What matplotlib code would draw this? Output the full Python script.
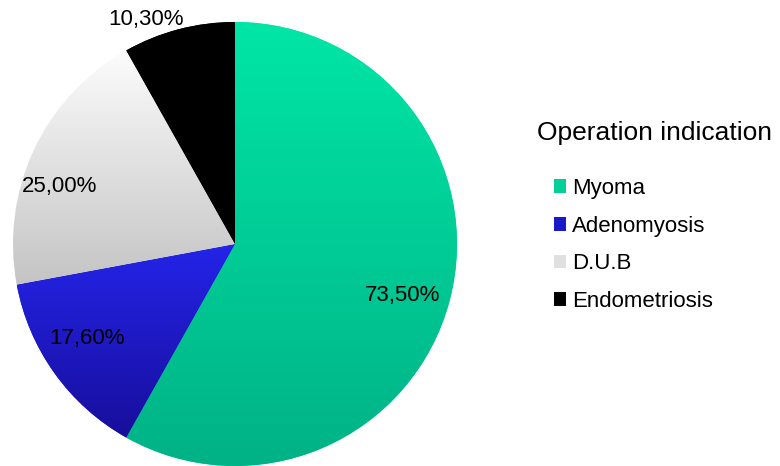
import numpy as np
import matplotlib
matplotlib.use('Agg')
import matplotlib.pyplot as plt
from matplotlib.patches import Patch
from matplotlib.colors import LinearSegmentedColormap

plt.rcParams['font.family'] = ['Liberation Sans', 'DejaVu Sans']

categories = ['Myoma', 'Adenomyosis', 'D.U.B', 'Endometriosis']
values = [73.50, 17.60, 25.00, 10.30]
value_labels = ['73,50%', '17,60%', '25,00%', '10,30%']

# gradient top -> bottom for each slice
grad_top = ['#00E6A6', '#2424E8', '#FCFCFC', '#000000']
grad_bottom = ['#00B286', '#180E9C', '#C4C4C4', '#000000']
legend_colors = ['#00D096', '#1A18C8', '#E0E0E0', '#000000']
label_dist = [0.79, 0.79, 0.83, 1.09]
label_turn = [-2.5, -3, 7, 7]   # degrees, nudges label around the centre

fig = plt.figure(figsize=(7.8, 4.66), dpi=100)
fig.patch.set_facecolor('white')

# pie axes: center ~ (235, 244) px, radius ~ 222 px
W, H = 780, 466
cx, cy, r = 235, 244, 222
ax = fig.add_axes([(cx - r) / W, (H - cy - r) / H, 2 * r / W, 2 * r / H])
wedges, _ = ax.pie(values, startangle=90, counterclock=False, radius=1,
                   colors=grad_top, wedgeprops=dict(linewidth=0))
ax.set_xlim(-1, 1)
ax.set_ylim(-1, 1)
ax.set_aspect('equal')
ax.axis('off')

for w, top, bot in zip(wedges, grad_top, grad_bottom):
    bb = w.get_window_extent().transformed(ax.transData.inverted())
    cmap = LinearSegmentedColormap.from_list('g', [bot, top])
    grad = np.linspace(0, 1, 256).reshape(-1, 1)
    im = ax.imshow(grad, cmap=cmap, origin='lower', aspect='auto',
                   extent=(bb.x0, bb.x1, bb.y0, bb.y1), zorder=w.get_zorder() + 0.1)
    im.set_clip_path(w)

ax.set_xlim(-1, 1)
ax.set_ylim(-1, 1)

for w, lab, d, t in zip(wedges, value_labels, label_dist, label_turn):
    ang = np.deg2rad((w.theta1 + w.theta2) / 2 + t)
    ax.text(d * np.cos(ang), d * np.sin(ang), lab, ha='center', va='center',
            fontsize=16, color='black', zorder=5, clip_on=False)

fig.text(537 / W, 1 - 133 / H, 'Operation indication', fontsize=19,
         ha='left', va='center')

handles = [Patch(facecolor=c, edgecolor='none') for c in legend_colors]
fig.legend(handles, categories, loc='upper left',
           bbox_to_anchor=(554 / W, 1 - 178 / H), frameon=False, fontsize=16,
           handlelength=0.55, handleheight=0.55, handletextpad=0.25,
           labelspacing=0.75, borderpad=0, borderaxespad=0)

fig.savefig('out.png', dpi=100, facecolor='white')
